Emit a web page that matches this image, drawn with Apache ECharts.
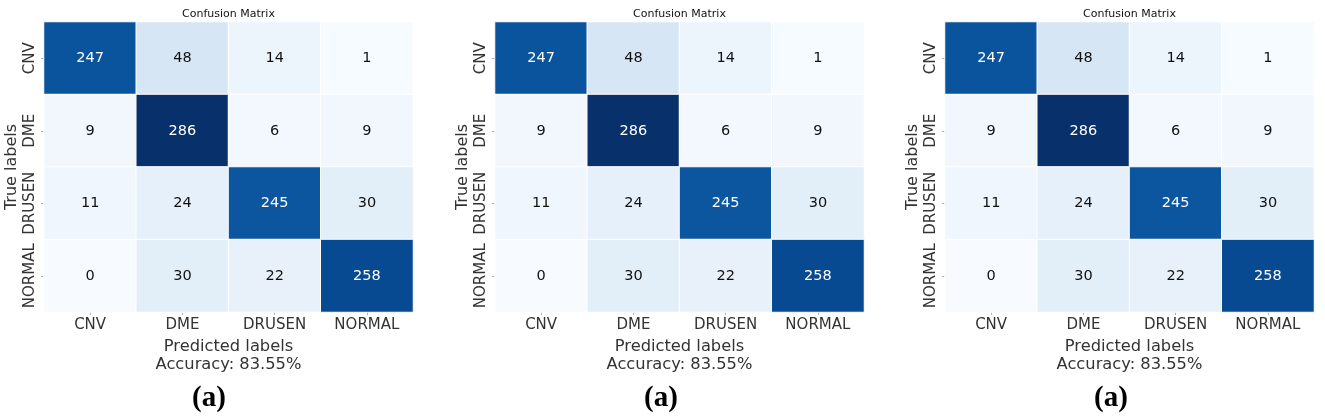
<!DOCTYPE html>
<html>
<head>
<meta charset="utf-8">
<script src="https://cdn.jsdelivr.net/npm/echarts@6/dist/echarts.min.js"></script>
<style>
html,body{margin:0;padding:0;background:#fff;}
#chart{width:1325px;height:416px;}
</style>
</head>
<body>
<div id="chart"></div>
<script>
// ---- data ----
const categories = ['CNV', 'DME', 'DRUSEN', 'NORMAL'];
const rowCNV    = [247, 48, 14, 1];
const rowDME    = [9, 286, 6, 9];
const rowDRUSEN = [11, 24, 245, 30];
const rowNORMAL = [0, 30, 22, 258];
const panelTitle = 'Confusion Matrix';
const xAxisTitle = 'Predicted labels';
const accuracyText = 'Accuracy: 83.55%';
const yAxisTitle = 'True labels';
const panelCaption = 'a';

const matrix = [rowCNV, rowDME, rowDRUSEN, rowNORMAL];
const blues = ['#f7fbff', '#deebf7', '#c6dbef', '#9ecae1', '#6baed6', '#4292c6', '#2171b5', '#08519c', '#08306b'];
const vmax = 286;

function heatData() {
  const out = [];
  matrix.forEach((row, r) => {
    row.forEach((v, c) => {
      out.push({ value: [c, r, v], label: { color: v / vmax > 0.55 ? '#ffffff' : '#111111' } });
    });
  });
  return out;
}

const FONT = 'DejaVu Sans';
const panels = [
  { left: 44, cx: 228.5, capX: 209 },
  { left: 495, cx: 679.5, capX: 661 },
  { left: 945, cx: 1129.5, capX: 1111 }
];
const gridW = 369, gridTop = 22, gridH = 290;

const grid = [], xAxis = [], yAxis = [], series = [], graphic = [];
panels.forEach((p, i) => {
  grid.push({ left: p.left, top: gridTop, width: gridW, height: gridH, containLabel: false });
  xAxis.push({
    type: 'category', gridIndex: i, data: categories,
    axisLine: { show: false },
    axisTick: { show: true, alignWithLabel: true, length: 3, lineStyle: { color: '#b0b0b0' } },
    axisLabel: { fontFamily: FONT, fontSize: 15, color: '#333333', margin: 6, interval: 0 },
    splitLine: { show: false },
    name: xAxisTitle + '\n' + accuracyText,
    nameLocation: 'middle', nameGap: 20,
    nameTextStyle: { fontFamily: FONT, fontSize: 16.3, color: '#333333', lineHeight: 18 }
  });
  yAxis.push({
    type: 'category', gridIndex: i, data: categories, inverse: true,
    axisLine: { show: false },
    axisTick: { show: true, alignWithLabel: true, length: 3, lineStyle: { color: '#b0b0b0' } },
    axisLabel: { fontFamily: FONT, fontSize: 15, color: '#333333', margin: 6, rotate: 90, interval: 0, hideOverlap: false },
    splitLine: { show: false },
    name: yAxisTitle, nameLocation: 'middle', nameGap: 24,
    nameTextStyle: { fontFamily: FONT, fontSize: 16, color: '#333333' }
  });
  series.push({
    type: 'heatmap', xAxisIndex: i, yAxisIndex: i,
    data: heatData(),
    label: { show: true, fontFamily: FONT, fontSize: 14.5 },
    itemStyle: { borderColor: '#ffffff', borderWidth: 1 },
    emphasis: { disabled: true }
  });
  graphic.push({
    type: 'text', x: p.cx, y: 14,
    style: { text: panelTitle, font: '11px "DejaVu Sans"', fill: '#111111', align: 'center', verticalAlign: 'middle', textAlign: 'center', textVerticalAlign: 'middle' }
  });
  graphic.push({
    type: 'text', x: p.capX, y: 399,
    style: { text: '(' + panelCaption + ')', font: 'bold 29px "Liberation Serif"', fill: '#000000', align: 'center', verticalAlign: 'middle', textAlign: 'center', textVerticalAlign: 'middle' }
  });
});

const chart = echarts.init(document.getElementById('chart'), null, { renderer: 'canvas' });
chart.setOption({
  backgroundColor: '#ffffff',
  animation: false,
  grid, xAxis, yAxis, series, graphic,
  visualMap: {
    show: false, type: 'continuous', min: 0, max: vmax, dimension: 2,
    seriesIndex: [0, 1, 2],
    inRange: { color: blues }
  }
});
</script>
</body>
</html>
